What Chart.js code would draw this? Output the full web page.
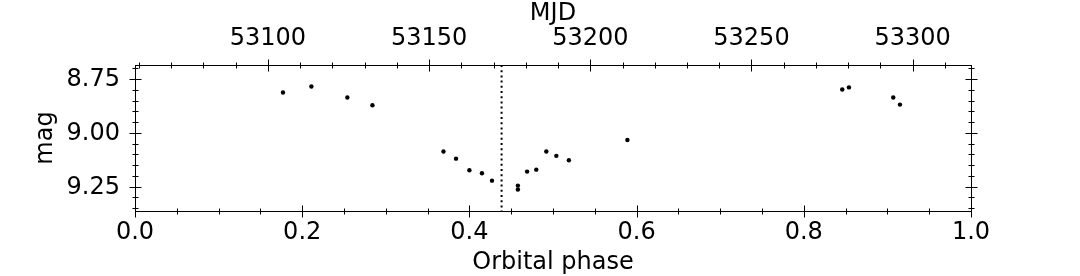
<!DOCTYPE html>
<html>
<head>
<meta charset="utf-8">
<script src="https://cdn.jsdelivr.net/npm/chart.js@4.4.1/dist/chart.umd.min.js"></script>
<style>
  html, body { margin: 0; padding: 0; background: #fff; }
  .chart { width: 1080px; height: 276px; }
</style>
</head>
<body>
<div class="chart"><canvas id="myChart"></canvas></div>
<script>
// light curve
const phase = [0.177, 0.211, 0.254, 0.284, 0.369, 0.384, 0.400, 0.415, 0.427, 0.458, 0.458,
               0.469, 0.480, 0.492, 0.504, 0.519, 0.589, 0.846, 0.854, 0.907, 0.915];
const mag = [8.813, 8.785, 8.836, 8.872, 9.087, 9.120, 9.174, 9.188, 9.222, 9.245, 9.263,
             9.180, 9.171, 9.087, 9.107, 9.127, 9.033, 8.799, 8.789, 8.836, 8.869];
const eclipsePhase = [0.4385];

const phaseTicks = [0.0, 0.2, 0.4, 0.6, 0.8, 1.0];
const mjdTicks = [53100, 53150, 53200, 53250, 53300];
const magTicks = [8.75, 9.00, 9.25];

const phaseRange = [0, 1];
const mjdRange = [53058.75, 53318.1];
const magRange = [8.685, 9.363];

let font = { family: 'DejaVu Sans', size: 24 };

function minorTicks(lo, hi, step) {
    let out = [];
    for (let v = Math.ceil(lo / step - 1e-6) * step; v <= hi + 1e-9; v += step) out.push(v);
    return out;
}

// matplotlib-style spines with in/out ticks
const frame = {
    id: 'frame',
    afterDraw(chart) {
        const { ctx, chartArea: a, scales } = chart;
        ctx.save();
        ctx.strokeStyle = '#000';
        ctx.lineWidth = 1;
        ctx.strokeRect(Math.round(a.left) + 0.5, Math.round(a.top) + 0.5,
            Math.round(a.right - a.left), Math.round(a.bottom - a.top));
        ctx.beginPath();
        const vTicks = (scale, vals, len, y) => vals.forEach(v => {
            let px = Math.round(scale.getPixelForValue(v)) + 0.5;
            ctx.moveTo(px, y - len); ctx.lineTo(px, y + len);
        });
        const hTicks = (scale, vals, len, x) => vals.forEach(v => {
            let py = Math.round(scale.getPixelForValue(v)) + 0.5;
            ctx.moveTo(x - len, py); ctx.lineTo(x + len, py);
        });
        const bottom = Math.round(a.bottom) + 0.5, top = Math.round(a.top) + 0.5;
        const left = Math.round(a.left) + 0.5, right = Math.round(a.right) + 0.5;
        vTicks(scales.x, minorTicks(phaseRange[0], phaseRange[1], 0.05), 3, bottom);
        vTicks(scales.x, phaseTicks, 6, bottom);
        vTicks(scales.x2, minorTicks(mjdRange[0], mjdRange[1], 10), 3, top);
        vTicks(scales.x2, mjdTicks, 6, top);
        [left, right].forEach(x => {
            hTicks(scales.y, minorTicks(magRange[0], magRange[1], 0.05), 3, x);
            hTicks(scales.y, magTicks, 6, x);
        });
        ctx.stroke();
        ctx.restore();
    }
};

function fixedTicks(arr) {
    return scale => { scale.ticks = arr.map(v => ({ value: v })); };
}

let ctx = document.getElementById('myChart').getContext('2d');

let myChart = new Chart(ctx, {
    type: 'scatter',
    data: {
        datasets: [{
            data: phase.map((p, i) => ({ x: p, y: mag[i] })),
            backgroundColor: '#000',
            borderWidth: 0,
            pointRadius: 2.2
        }, {
            type: 'line',
            data: [{ x: eclipsePhase[0], y: magRange[0] }, { x: eclipsePhase[0], y: magRange[1] }],
            borderColor: '#000',
            borderWidth: 2,
            borderDash: [2, 3.2],
            pointRadius: 0,
            showLine: true
        }]
    },
    options: {
        responsive: true,
        maintainAspectRatio: false,
        animation: false,
        layout: { padding: { left: 0, right: 109, top: 0, bottom: 0 } },
        plugins: { legend: { display: false }, tooltip: { enabled: false } },
        scales: {
            x: {
                type: 'linear', position: 'bottom',
                min: phaseRange[0], max: phaseRange[1],
                afterBuildTicks: fixedTicks(phaseTicks),
                ticks: { callback: v => v.toFixed(1), font: font, color: '#000', padding: 7, maxRotation: 0, autoSkip: false },
                grid: { display: false, drawTicks: false },
                border: { display: false },
                title: { display: true, text: 'Orbital phase', font: font, color: '#000', padding: { top: 0, bottom: -1 } },
                afterFit: s => { s.height = 65; }
            },
            x2: {
                type: 'linear', position: 'top',
                min: mjdRange[0], max: mjdRange[1],
                afterBuildTicks: fixedTicks(mjdTicks),
                ticks: { callback: v => String(v), font: font, color: '#000', padding: 12, maxRotation: 0, autoSkip: false },
                grid: { display: false, drawTicks: false },
                border: { display: false },
                title: { display: true, text: 'MJD', font: font, color: '#000', padding: { top: -1, bottom: 0 } },
                afterFit: s => { s.height = 65; }
            },
            y: {
                type: 'linear', position: 'left', reverse: true,
                min: magRange[0], max: magRange[1],
                afterBuildTicks: fixedTicks(magTicks),
                ticks: { callback: v => v.toFixed(2), font: font, color: '#000', padding: 15, labelOffset: 1, autoSkip: false },
                grid: { display: false, drawTicks: false },
                border: { display: false },
                title: { display: true, text: 'mag', font: font, color: '#000', padding: { top: 31, bottom: 0 } },
                afterFit: s => { s.width = 135; }
            }
        }
    },
    plugins: [frame]
});
</script>
</body>
</html>
